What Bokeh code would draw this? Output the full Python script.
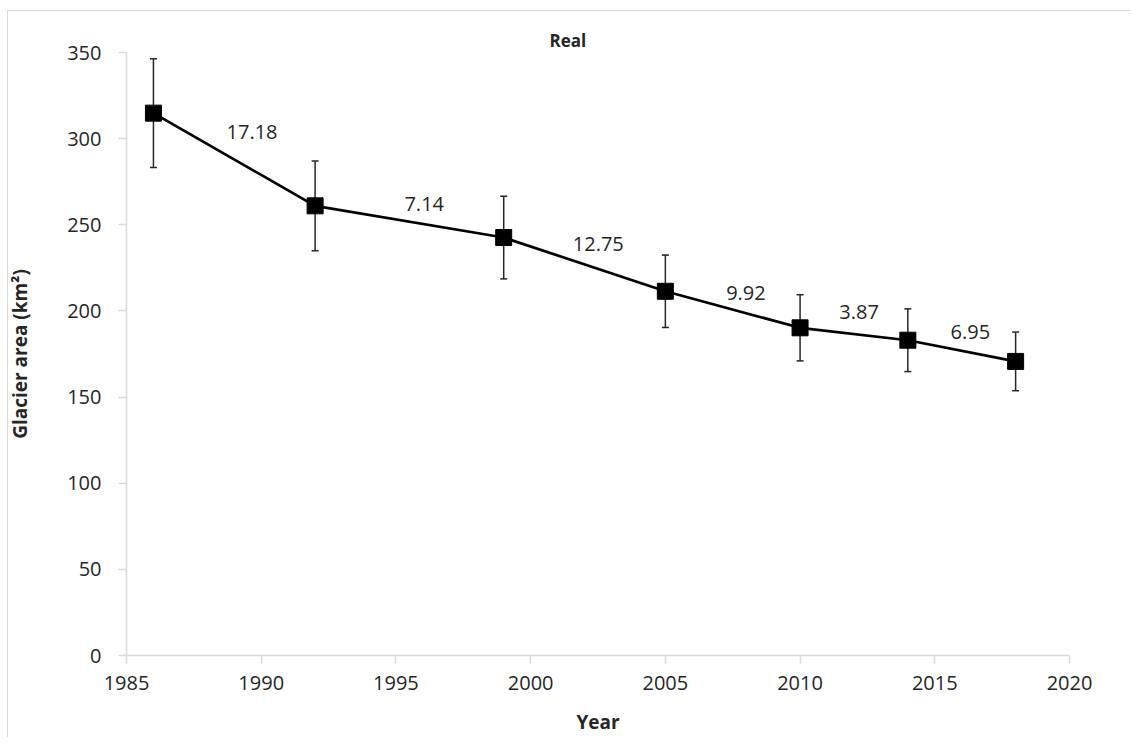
from bokeh.plotting import figure
from bokeh.models import ColumnDataSource, Whisker, TeeHead, Range1d, FixedTicker
from bokeh.core.properties import value
from bokeh.embed import file_html
from bokeh.resources import INLINE

years = [1986, 1992, 1999, 2005, 2010, 2014, 2018]
area = [314.8, 261.0, 242.6, 211.4, 190.2, 183.0, 170.7]
err = [31.5, 26.0, 24.0, 21.0, 19.2, 18.2, 17.0]
rate_labels = ["17.18", "7.14", "12.75", "9.92", "3.87", "6.95"]
label_year = [1989.66, 1996.05, 2002.51, 2007.99, 2012.19, 2016.32]
label_area = [303.7, 262.1, 239.1, 210.6, 199.4, 187.9]
x_ticks = [1985, 1990, 1995, 2000, 2005, 2010, 2015, 2020]
y_ticks = [0, 50, 100, 150, 200, 250, 300, 350]

FONT = "Open Sans"
TXT = "#262626"
GRID = "#d9d9d9"

src = ColumnDataSource(dict(
    year=years, area=area,
    upper=[a + e for a, e in zip(area, err)],
    lower=[a - e for a, e in zip(area, err)],
))

p = figure(width=1131, height=737, output_backend="svg", toolbar_location=None,
           x_range=Range1d(1985, 2020), y_range=Range1d(0, 350),
           min_border_left=126, min_border_right=62, min_border_top=52, min_border_bottom=80,
           title="Real")
p.border_fill_color = None
p.background_fill_color = "white"
p.styles = {
    "background-color": "white",
    "background-image": "linear-gradient(#d9d9d9,#d9d9d9), linear-gradient(#d9d9d9,#d9d9d9)",
    "background-size": "100% 1px, 1px 100%",
    "background-position": "7px 10px, 7px 10px",
    "background-repeat": "no-repeat",
}
p.outline_line_color = None
p.xgrid.visible = False
p.ygrid.visible = False

p.title.text_font = FONT
p.title.text_font_style = "bold"
p.title.text_font_size = "17px"
p.title.text_color = TXT
p.title.align = "left"
p.title.offset = 423
p.title.standoff = 2

for ax in (p.xaxis[0], p.yaxis[0]):
    ax.axis_line_color = GRID
    ax.axis_line_width = 1.5
    ax.major_tick_line_color = GRID
    ax.major_tick_line_width = 1.5
    ax.major_tick_out = 8
    ax.major_tick_in = 0
    ax.minor_tick_line_color = None
    ax.major_label_text_font = FONT
    ax.major_label_text_font_size = "20px"
    ax.major_label_text_color = TXT
    ax.axis_label_text_font = FONT
    ax.axis_label_text_font_style = "bold"
    ax.axis_label_text_font_size = "19px"
    ax.axis_label_text_color = TXT

p.xaxis.ticker = FixedTicker(ticks=x_ticks)
p.yaxis.ticker = FixedTicker(ticks=y_ticks)
p.xaxis.axis_label = "Year"
p.yaxis.axis_label = "Glacier area (km²)"
p.xaxis.major_label_standoff = 12
p.yaxis.major_label_standoff = 17
p.xaxis.axis_label_standoff = 16
p.yaxis.axis_label_standoff = 31

wh = Whisker(source=src, base="year", upper="upper", lower="lower",
             line_color="#262626", line_width=1.5,
             upper_head=TeeHead(size=7, line_color="#262626", line_width=1.5),
             lower_head=TeeHead(size=7, line_color="#262626", line_width=1.5))
p.add_layout(wh)

p.line("year", "area", source=src, line_color="black", line_width=2.7)
p.scatter("year", "area", source=src, marker="square", size=16, fill_color="black", line_color="black")

p.text(x=label_year, y=label_area, text=rate_labels, text_font=value(FONT),
       text_font_size="20px", text_color=TXT, text_align="center", text_baseline="middle")

open("out.html", "w").write(file_html(p, INLINE))
